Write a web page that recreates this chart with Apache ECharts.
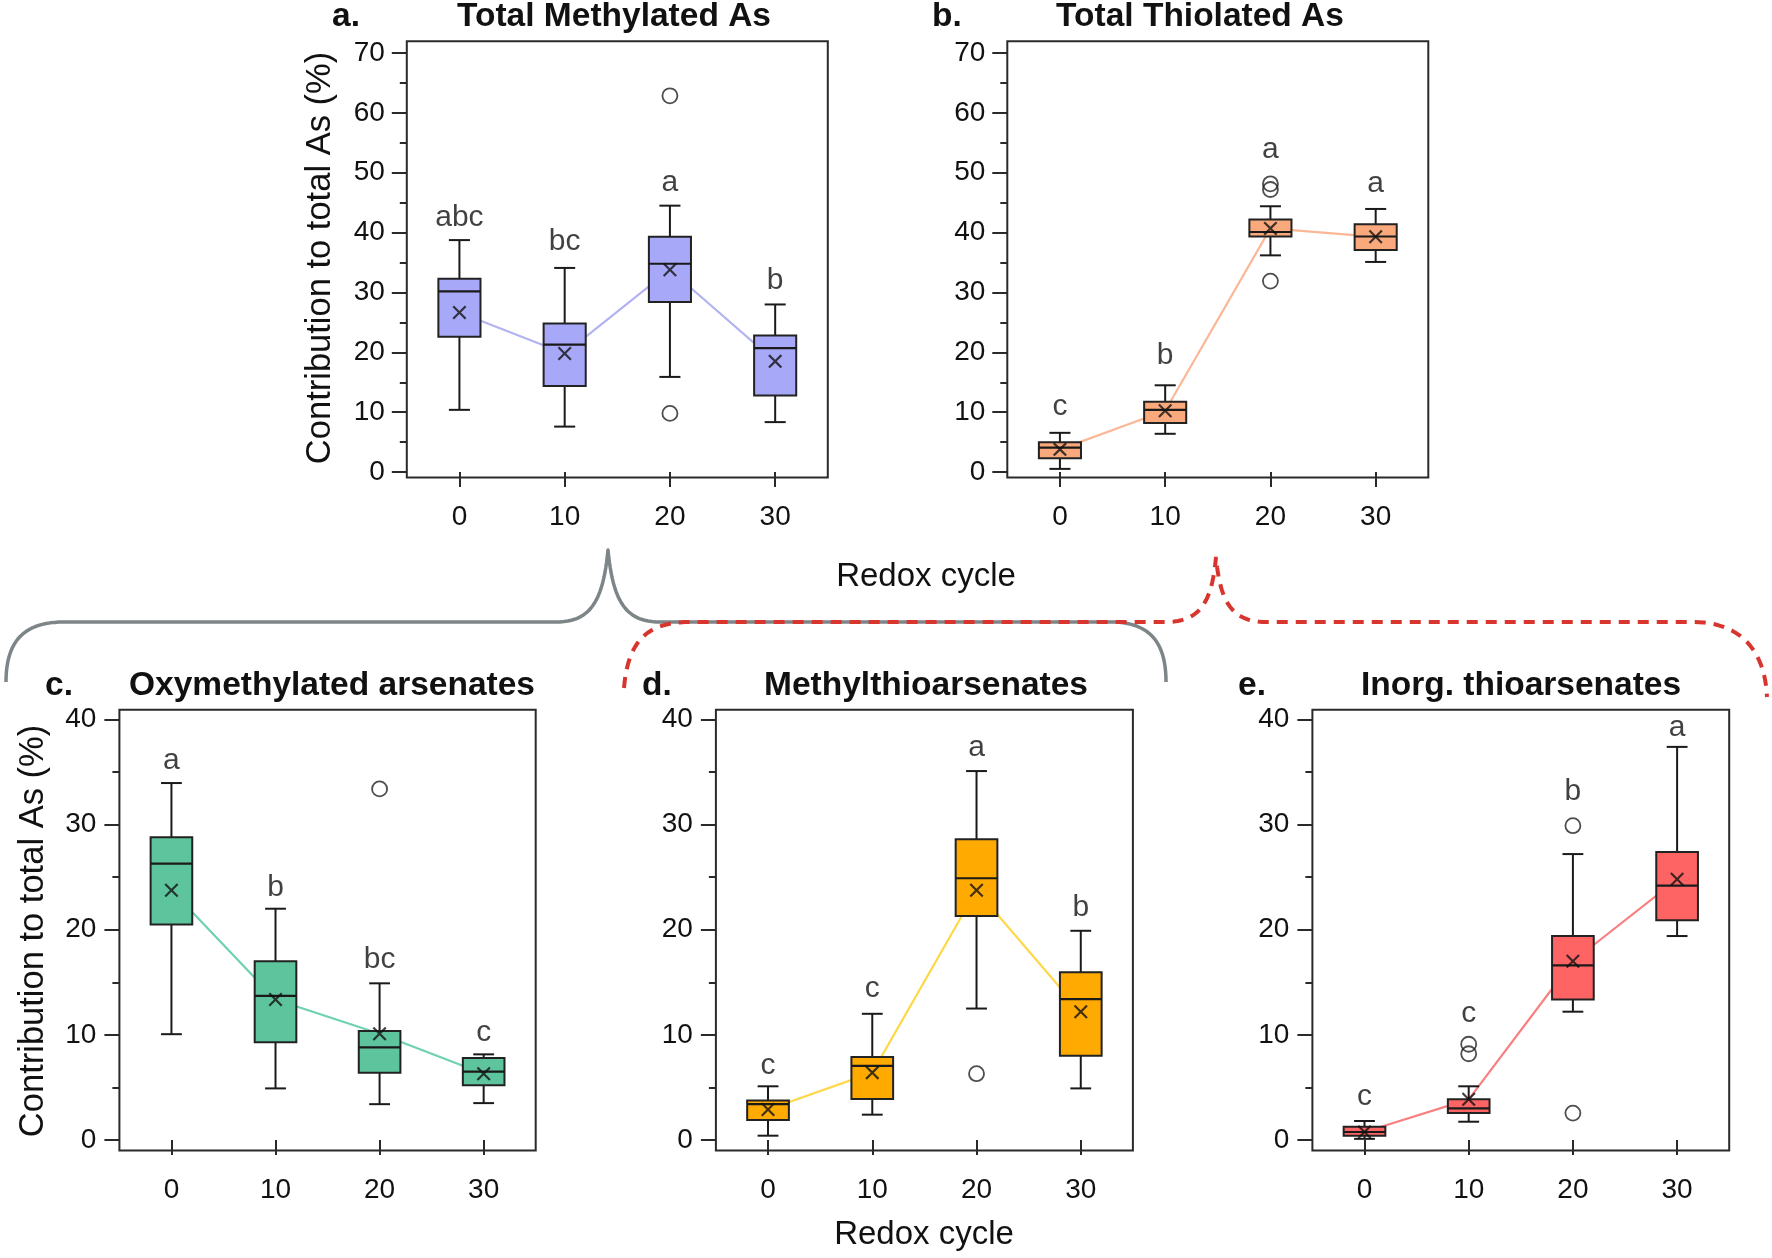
<!DOCTYPE html>
<html><head><meta charset="utf-8">
<script src="https://cdn.jsdelivr.net/npm/echarts@6/dist/echarts.min.js"></script>
<style>html,body{margin:0;padding:0;background:#fff}#c{width:1772px;height:1258px}</style>
</head><body><div id="c"></div>
<script>
// ---------- DATA ----------
const cycles = ['0', '10', '20', '30'];
// box statistics per cycle: [min, Q1, median, Q3, max]
const boxA = [[10.4, 22.6, 30.2, 32.3, 38.75], [7.6, 14.4, 21.3, 24.8, 34.1], [15.9, 28.4, 34.8, 39.3, 44.5], [8.35, 12.8, 20.7, 22.8, 28.0]];
const meanA = [26.65, 19.8, 33.8, 18.5];
const outA = [['20', 62.85], ['20', 9.8]];
const letA = ['abc', 'bc', 'a', 'b'];
const letYA = [42.45, 38.4, 48.4, 32.0];

const boxB = [[0.54, 2.3, 4.1, 5.0, 6.56], [6.4, 8.2, 10.4, 11.75, 14.5], [36.2, 39.35, 40.1, 42.2, 44.4], [35.1, 37.1, 39.35, 41.4, 43.95]];
const meanB = [3.8, 10.25, 40.7, 39.3];
const outB = [['20', 48.15], ['20', 47.2], ['20', 31.9]];
const letB = ['c', 'b', 'a', 'a'];
const letYB = [11.0, 19.5, 53.8, 48.1];

const boxC = [[10.06, 20.5, 26.3, 28.8, 33.96], [4.9, 9.3, 13.7, 17.0, 22.0], [3.4, 6.4, 8.8, 10.36, 14.9], [3.5, 5.2, 6.5, 7.8, 8.14]];
const meanC = [23.75, 13.36, 10.1, 6.3];
const outC = [['20', 33.4]];
const letC = ['a', 'b', 'bc', 'c'];
const letYC = [36.1, 24.0, 17.1, 10.2];

const boxD = [[0.4, 1.9, 3.4, 3.75, 5.1], [2.4, 3.9, 7.05, 7.9, 12.0], [12.5, 21.3, 24.9, 28.6, 35.1], [4.9, 8.0, 13.4, 15.95, 19.9]];
const meanD = [2.9, 6.4, 23.75, 12.2];
const outD = [['20', 6.3]];
const letD = ['c', 'c', 'a', 'b'];
const letYD = [7.1, 14.4, 37.3, 22.1];

const boxE = [[0.1, 0.4, 0.75, 1.24, 1.8], [1.73, 2.55, 3.0, 3.86, 5.1], [12.2, 13.35, 16.6, 19.4, 27.2], [19.4, 20.9, 24.2, 27.4, 37.4]];
const meanE = [0.75, 3.86, 17.0, 24.8];
const outE = [['10', 9.1], ['10', 8.2], ['20', 29.9], ['20', 2.55]];
const letE = ['c', 'c', 'b', 'a'];
const letYE = [4.1, 12.0, 33.1, 39.25];

const majorTop = [0, 10, 20, 30, 40, 50, 60, 70];
const minorTop = [5, 15, 25, 35, 45, 55, 65];
const majorBot = [0, 10, 20, 30, 40];
const minorBot = [5, 15, 25, 35];

// ---------- LAYOUT / STYLE ----------
const FONT = '"Liberation Sans", Arial, Helvetica, sans-serif';
const panels = [
  { grid: { left: 406.8, top: 41.3, width: 421, height: 436.2 }, ymin: -0.9, ymax: 71.95, major: majorTop, minor: minorTop, ylm: 22,
    fill: '#A8A8F8', line: '#B3B3F2', box: boxA, mean: meanA, out: outA, let: letA, letY: letYA },
  { grid: { left: 1007.3, top: 41.3, width: 421, height: 436.2 }, ymin: -0.9, ymax: 71.95, major: majorTop, minor: minorTop, ylm: 22,
    fill: '#F9A97C', line: '#FAB896', box: boxB, mean: meanB, out: outB, let: letB, letY: letYB },
  { grid: { left: 119.4, top: 709.8, width: 416.3, height: 440.6 }, ymin: -1.0, ymax: 40.93, major: majorBot, minor: minorBot, ylm: 23,
    fill: '#5EC49E', line: '#6ED2AE', box: boxC, mean: meanC, out: outC, let: letC, letY: letYC },
  { grid: { left: 715.9, top: 709.8, width: 417, height: 440.6 }, ymin: -1.0, ymax: 40.93, major: majorBot, minor: minorBot, ylm: 23,
    fill: '#FFAA00', line: '#FFD84A', box: boxD, mean: meanD, out: outD, let: letD, letY: letYD },
  { grid: { left: 1312.4, top: 709.8, width: 416.8, height: 440.6 }, ymin: -1.0, ymax: 40.93, major: majorBot, minor: minorBot, ylm: 23,
    fill: '#FF6464', line: '#F88080', box: boxE, mean: meanE, out: outE, let: letE, letY: letYE }
];

const XPATH = 'path://M0,1.1 L1.1,0 L5,3.9 L8.9,0 L10,1.1 L6.1,5 L10,8.9 L8.9,10 L5,6.1 L1.1,10 L0,8.9 L3.9,5 Z';

function boxRenderer(fill) {
  return function (params, api) {
    const idx = api.value(0);
    const pMin = api.coord([idx, api.value(1)]);
    const pQ1 = api.coord([idx, api.value(2)]);
    const pMed = api.coord([idx, api.value(3)]);
    const pQ3 = api.coord([idx, api.value(4)]);
    const pMax = api.coord([idx, api.value(5)]);
    const band = api.size([1, 0])[0];
    const w = band * 0.40, cw = w / 2, x = pMin[0];
    const ls = { stroke: '#1a1a1a', lineWidth: 2 };
    return {
      type: 'group', children: [
        { type: 'line', shape: { x1: x, y1: pMax[1], x2: x, y2: pQ3[1] }, style: ls },
        { type: 'line', shape: { x1: x, y1: pQ1[1], x2: x, y2: pMin[1] }, style: ls },
        { type: 'line', shape: { x1: x - cw / 2, y1: pMax[1], x2: x + cw / 2, y2: pMax[1] }, style: ls },
        { type: 'line', shape: { x1: x - cw / 2, y1: pMin[1], x2: x + cw / 2, y2: pMin[1] }, style: ls },
        { type: 'rect', shape: { x: x - w / 2, y: pQ3[1], width: w, height: pQ1[1] - pQ3[1] },
          style: { fill: fill, stroke: '#222', lineWidth: 2 } },
        { type: 'line', shape: { x1: x - w / 2, y1: pMed[1], x2: x + w / 2, y2: pMed[1] }, style: { stroke: '#1a1a1a', lineWidth: 2.2 } }
      ]
    };
  };
}

const grids = [], xAxes = [], yAxes = [], series = [];
panels.forEach((p, i) => {
  grids.push(Object.assign({ show: true, borderColor: '#2a2a2a', borderWidth: 2, backgroundColor: 'transparent' }, p.grid));
  xAxes.push({
    type: 'category', gridIndex: i, data: cycles, boundaryGap: true,
    axisLine: { show: false },
    axisTick: { show: true, alignWithLabel: true, length: 15, lineStyle: { color: '#2a2a2a', width: 2 } },
    axisLabel: { fontSize: 28, color: '#111', margin: 26, fontFamily: FONT },
    splitLine: { show: false }
  });
  yAxes.push({
    type: 'value', gridIndex: i, position: 'left', min: p.ymin, max: p.ymax,
    axisLine: { show: false }, splitLine: { show: false },
    axisTick: { show: true, length: 15, customValues: p.major, lineStyle: { color: '#2a2a2a', width: 2 } },
    axisLabel: { show: true, customValues: p.major, fontSize: 28, color: '#111', margin: p.ylm, fontFamily: FONT }
  });
  yAxes.push({
    type: 'value', gridIndex: i, position: 'left', offset: 0, min: p.ymin, max: p.ymax,
    axisLine: { show: false }, splitLine: { show: false },
    axisTick: { show: true, length: 7, customValues: p.minor, lineStyle: { color: '#2a2a2a', width: 2 } },
    axisLabel: { show: false }
  });
  const yi = 2 * i;
  series.push({
    type: 'line', xAxisIndex: i, yAxisIndex: yi, data: p.mean, symbol: 'none', z: 1,
    lineStyle: { color: p.line, width: 2.2 }, silent: true
  });
  series.push({
    type: 'custom', xAxisIndex: i, yAxisIndex: yi, z: 2,
    renderItem: boxRenderer(p.fill),
    encode: { x: 0, y: [1, 2, 3, 4, 5] },
    data: p.box.map((b, k) => [k].concat(b))
  });
  series.push({
    type: 'scatter', xAxisIndex: i, yAxisIndex: yi, z: 4,
    symbol: XPATH, symbolSize: 14,
    itemStyle: { color: '#111' },
    data: p.mean.map((v, k) => [k, v])
  });
  series.push({
    type: 'scatter', xAxisIndex: i, yAxisIndex: yi, z: 4,
    symbol: 'circle', symbolSize: 15,
    itemStyle: { color: 'rgba(255,255,255,0)', borderColor: '#222', borderWidth: 1.8 },
    data: p.out
  });
  series.push({
    type: 'scatter', xAxisIndex: i, yAxisIndex: yi, z: 5, symbolSize: 0,
    label: {
      show: true, position: 'inside', fontSize: 30, color: '#111', fontFamily: FONT,
      formatter: (prm) => p.let[prm.dataIndex]
    },
    data: p.letY.map((v, k) => [k, v])
  });
});

function txt(text, x, y, size, bold, rot) {
  return {
    type: 'text', x: x, y: y, rotation: rot || 0, z: 100,
    style: {
      text: text, fill: '#111',
      font: (bold ? 'bold ' : '') + size + 'px ' + FONT,
      align: 'center', verticalAlign: 'middle', textAlign: 'center', textVerticalAlign: 'middle'
    }
  };
}

// decorative brace paths: sequence of segments, sampled into polyline points
function curvePoints(start, segs) {
  const pts = [start.slice()];
  let cur = start.slice();
  segs.forEach(s => {
    if (s.length === 2) { pts.push(s.slice()); cur = s.slice(); }
    else {
      const [c1, c2, e] = s;
      for (let t = 1; t <= 24; t++) {
        const u = t / 24, v = 1 - u;
        pts.push([
          v * v * v * cur[0] + 3 * v * v * u * c1[0] + 3 * v * u * u * c2[0] + u * u * u * e[0],
          v * v * v * cur[1] + 3 * v * v * u * c1[1] + 3 * v * u * u * c2[1] + u * u * u * e[1]
        ]);
      }
      cur = e.slice();
    }
  });
  return pts;
}
const grayBrace = curvePoints([6, 682], [
  [[6, 640], [25, 622], [64, 622]], [556, 622],
  [[590, 622], [603, 602], [608, 550]],
  [[613, 602], [626, 622], [660, 622]], [1110, 622],
  [[1148, 622], [1166, 640], [1166, 682]]
]);
const redBrace = curvePoints([624, 688], [
  [[628, 640], [648, 622], [690, 622]], [1166, 622],
  [[1200, 622], [1212, 602], [1216, 557]],
  [[1220, 602], [1232, 622], [1266, 622]], [1693, 622],
  [[1740, 622], [1765, 650], [1767, 697]]
]);

const graphics = [
  txt('a.', 346, 17, 33.5, true), txt('Total Methylated As', 614, 17, 33.5, true),
  txt('b.', 947, 17, 33.5, true), txt('Total Thiolated As', 1200, 17, 33.5, true),
  txt('c.', 59, 686, 33.5, true), txt('Oxymethylated arsenates', 332, 686, 33.5, true),
  txt('d.', 657, 686, 33.5, true), txt('Methylthioarsenates', 926, 686, 33.5, true),
  txt('e.', 1252, 686, 33.5, true), txt('Inorg. thioarsenates', 1521, 686, 33.5, true),
  txt('Contribution to total As (%)', 320, 258, 34.5, false, Math.PI / 2),
  txt('Contribution to total As (%)', 33, 931, 34.5, false, Math.PI / 2),
  txt('Redox cycle', 926, 577, 33, false),
  txt('Redox cycle', 924, 1235, 33, false),
  { type: 'polyline', z: 50, shape: { points: grayBrace },
    style: { fill: 'none', stroke: '#7d8588', lineWidth: 3.5, lineJoin: 'round' } },
  { type: 'polyline', z: 51, shape: { points: redBrace },
    style: { fill: 'none', stroke: '#D8352E', lineWidth: 4, lineDash: [11, 8] } }
];

const chart = echarts.init(document.getElementById('c'), null, { renderer: 'canvas' });
chart.setOption({
  animation: false,
  backgroundColor: '#ffffff',
  textStyle: { fontFamily: FONT },
  grid: grids, xAxis: xAxes, yAxis: yAxes, series: series,
  graphic: graphics
});
</script>
</body></html>
